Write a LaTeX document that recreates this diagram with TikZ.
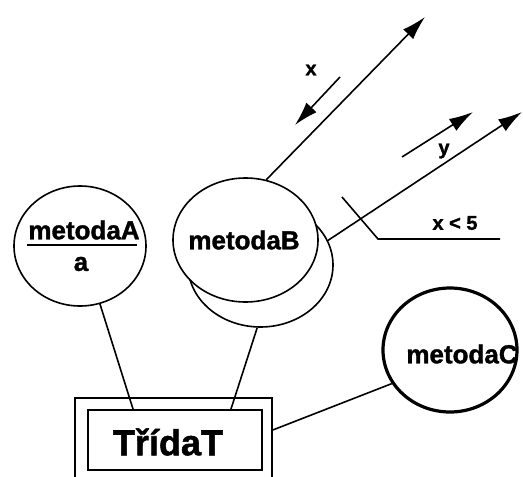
\documentclass[tikz,border=0pt]{standalone}
\usepackage{fontspec}
\setmainfont{Liberation Sans}
\newfontfamily\heavyfont[FakeBold=1.4]{Liberation Sans Bold}
\usetikzlibrary{arrows.meta,shapes.geometric}
\begin{document}
\begin{tikzpicture}[x=1pt,y=-1pt,
  oval/.style={ellipse,draw,line width=1.6pt,fill=white,inner sep=0pt},
  conn/.style={line width=1.6pt},
  msg/.style={line width=1.6pt,-{Latex[length=24pt,width=14pt]}},
  lbl/.style={font=\heavyfont\fontsize{20}{22}\selectfont,inner sep=0pt},
  big/.style={font=\heavyfont\fontsize{26}{28}\selectfont,inner sep=0pt},
  title/.style={font=\heavyfont\fontsize{36}{40}\selectfont,inner sep=0pt},
]
\fill[white] (0,0) rectangle (523,477);
\useasboundingbox (0,0) rectangle (523,477);
\clip (0,0) rectangle (523,477);

% method A: name over its parameter
\node[oval,minimum width=132pt,minimum height=120pt] (mA) at (80,246) {};
\node[big] (mAname) at (84,230) {metodaA};
\draw[line width=1.6pt] (27,245) -- (137,245);
\node[big] (mApar) at (81,264) {a};

% method B: stacked ovals
\node[oval,minimum width=145pt,minimum height=124pt] (mBs) at (260.5,265) {};
\node[oval,minimum width=145pt,minimum height=124pt] (mB) at (245.5,240) {};
\node[big] (mBname) at (244,240) {metodaB};

% method C
\node[ellipse,draw,line width=3.2pt,fill=white,inner sep=0pt,
      minimum width=134pt,minimum height=124pt] (mC) at (450,350) {};
\node[big] (mCname) at (462,354) {metodaC};

% class box
\node[draw,line width=1.6pt,minimum width=197pt,minimum height=92pt,inner sep=0pt] (Tout) at (173.5,444) {};
\node[draw,line width=2pt,minimum width=174pt,minimum height=60pt,inner sep=0pt] (Tin) at (175,440) {};
\node[title] (Tname) at (168,442) {TřídaT};

% links to the class
\draw[conn] (mA.-71) -- ([xshift=46pt]Tin.north west);
\draw[conn] (mBs.-93) -- ([xshift=144pt]Tin.north west);
\draw[conn] (mC.210) -- ([yshift=14pt]Tout.east);

% messages leaving method B
\coordinate (out1) at (425,17);
\coordinate (out2) at (522,112);
\draw[msg] (mB.71) -- (out1);
\draw[msg] (mBs.20) -- (out2);

% parameter flows
\coordinate (xs) at (340,77);
\coordinate (xe) at (295,125);
\draw[msg] (xs) -- (xe);
\node[lbl] (xl) at (311,70) {x};

\coordinate (ys) at (402,157);
\coordinate (ye) at (473,112);
\draw[msg] (ys) -- (ye);
\node[lbl] (yl) at (444,151) {y};

% guard condition
\coordinate (g1) at (342,197);
\coordinate (g2) at (378,239);
\coordinate (g3) at (500,239);
\draw[conn] (g1) -- (g2) -- (g3);
\node[lbl] (gl) at (455,223) {x < 5};
\end{tikzpicture}
\end{document}
